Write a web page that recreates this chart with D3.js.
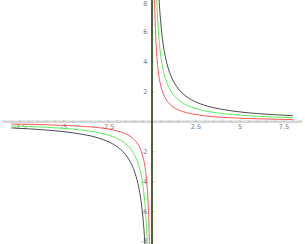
<!DOCTYPE html>
<html>
<head>
<meta charset="utf-8">
<script src="https://cdn.jsdelivr.net/npm/d3@7"></script>
<style>
  body { margin: 0; background: #fff; }
  svg { display: block; }
  .tick-label { font-family: "DejaVu Sans", sans-serif; font-size: 6.5px; fill: #777; }
</style>
</head>
<body>
<svg class="svg" width="305" height="244"></svg>
<script>
// sample points (right branch, x > 0)
let xRight = [0.1, 0.125, 0.15, 0.175, 0.2, 0.25, 0.3, 0.35, 0.4, 0.5, 0.6, 0.7, 0.8, 1, 1.2, 1.4, 1.6, 2, 2.5, 3, 3.5, 4, 5, 6, 7, 8];
let redRight   = [12, 9.6, 8, 6.86, 6, 4.8, 4, 3.43, 3, 2.4, 2, 1.71, 1.5, 1.2, 1, 0.86, 0.75, 0.6, 0.48, 0.4, 0.34, 0.3, 0.24, 0.2, 0.17, 0.15];
let greenRight = [22, 17.6, 14.67, 12.57, 11, 8.8, 7.33, 6.29, 5.5, 4.4, 3.67, 3.14, 2.75, 2.2, 1.83, 1.57, 1.38, 1.1, 0.88, 0.73, 0.63, 0.55, 0.44, 0.37, 0.31, 0.28];
let blackRight = [33, 26.4, 22, 18.86, 16.5, 13.2, 11, 9.43, 8.25, 6.6, 5.5, 4.71, 4.13, 3.3, 2.75, 2.36, 2.06, 1.65, 1.32, 1.1, 0.94, 0.83, 0.66, 0.55, 0.47, 0.41];

// left branch, x < 0
let xLeft = [-8, -7, -6, -5, -4, -3.5, -3, -2.5, -2, -1.6, -1.4, -1.2, -1, -0.8, -0.7, -0.6, -0.5, -0.4, -0.35, -0.3, -0.25, -0.2, -0.175, -0.15, -0.125, -0.1];
let redLeft   = [-0.15, -0.17, -0.2, -0.24, -0.3, -0.34, -0.4, -0.48, -0.6, -0.75, -0.86, -1, -1.2, -1.5, -1.71, -2, -2.4, -3, -3.43, -4, -4.8, -6, -6.86, -8, -9.6, -12];
let greenLeft = [-0.28, -0.31, -0.37, -0.44, -0.55, -0.63, -0.73, -0.88, -1.1, -1.38, -1.57, -1.83, -2.2, -2.75, -3.14, -3.67, -4.4, -5.5, -6.29, -7.33, -8.8, -11, -12.57, -14.67, -17.6, -22];
let blackLeft = [-0.41, -0.47, -0.55, -0.66, -0.83, -0.94, -1.1, -1.32, -1.65, -2.06, -2.36, -2.75, -3.3, -4.13, -4.71, -5.5, -6.6, -8.25, -9.43, -11, -13.2, -16.5, -18.86, -22, -26.4, -33];

let seriesNames = ['black', 'green', 'red'];
let seriesColors = ['#383838', '#44ee44', '#ff4444'];
let seriesLeft = [blackLeft, greenLeft, redLeft];
let seriesRight = [blackRight, greenRight, redRight];

let xTickMajor = [-7.5, -5, -2.5, 2.5, 5, 7.5];
let xTickLabels = ['-7.5', '-5', '-2.5', '2.5', '5', '7.5'];
let yTickMajor = [-8, -6, -4, -2, 2, 4, 6, 8];
let yTickLabels = ['-8', '-6', '-4', '-2', '2', '4', '6', '8'];

let width = 305, height = 244;
let originX = 152, originY = 121.8;
let pxPerX = 17.6, pxPerY = 14.95;

let x = d3.scaleLinear()
    .domain([-originX / pxPerX, (width - originX) / pxPerX])
    .range([0, width]);
let y = d3.scaleLinear()
    .domain([-(height - originY) / pxPerY, originY / pxPerY])
    .range([height, 0]);

let svg = d3.select('.svg');

svg.append('defs').append('clipPath').attr('id', 'plotClip')
    .append('rect')
    .attr('x', 0).attr('y', y(8.2))
    .attr('width', width).attr('height', y(-8.2) - y(8.2));

// x axis: light gray band
svg.append('line')
    .attr('x1', 3).attr('x2', 302)
    .attr('y1', y(0)).attr('y2', y(0))
    .attr('stroke', '#d6d6d6')
    .attr('stroke-width', 2.6);

// minor + major ticks on x axis
let xMinor = d3.range(-8.5, 8.51, 0.5).filter(v => Math.abs(v) > 0.01);
svg.selectAll('.xminor').data(xMinor).enter().append('line')
    .attr('class', 'xminor')
    .attr('x1', d => x(d)).attr('x2', d => x(d))
    .attr('y1', d => y(0) - (xTickMajor.includes(d) ? 2 : 1.2))
    .attr('y2', y(0))
    .attr('stroke', '#999')
    .attr('stroke-width', 0.6);

svg.selectAll('.xlab').data(xTickMajor).enter().append('text')
    .attr('class', 'tick-label')
    .attr('x', d => x(d))
    .attr('y', y(0) + 7.5)
    .attr('text-anchor', 'middle')
    .text((d, i) => xTickLabels[i]);

// y axis ticks
let yMinor = d3.range(-8, 8.01, 0.5).filter(v => Math.abs(v) > 0.01);
svg.selectAll('.yminor').data(yMinor).enter().append('line')
    .attr('class', 'yminor')
    .attr('x1', x(0)).attr('x2', d => x(0) + (yTickMajor.includes(d) ? 2.2 : 1.3))
    .attr('y1', d => y(d)).attr('y2', d => y(d))
    .attr('stroke', '#999')
    .attr('stroke-width', 0.6);

// labels at the edges are nudged inside the window
svg.selectAll('.ylab').data(yTickMajor).enter().append('text')
    .attr('class', 'tick-label')
    .attr('x', x(0) - 4.5)
    .attr('y', d => Math.max(6, Math.min(height - 1.5, y(d) + 2.3)))
    .attr('text-anchor', 'end')
    .text((d, i) => yTickLabels[i]);

// curves
let line = d3.line()
    .x(d => x(d[0]))
    .y(d => y(d[1]))
    .curve(d3.curveMonotoneX);

let plot = svg.append('g').attr('clip-path', 'url(#plotClip)');
for (let i = 0; i < seriesNames.length; i++) {
    let left = xLeft.map((v, j) => [v, seriesLeft[i][j]]);
    let right = xRight.map((v, j) => [v, seriesRight[i][j]]);
    [left, right].forEach(pts => {
        plot.append('path')
            .attr('d', line(pts))
            .attr('fill', 'none')
            .attr('stroke', seriesColors[i])
            .attr('stroke-width', 0.9);
    });
}

// y axis: dark olive line
svg.append('line')
    .attr('x1', x(0)).attr('x2', x(0))
    .attr('y1', 0).attr('y2', height)
    .attr('stroke', '#3d5220')
    .attr('stroke-width', 1.8);
</script>
</body>
</html>
